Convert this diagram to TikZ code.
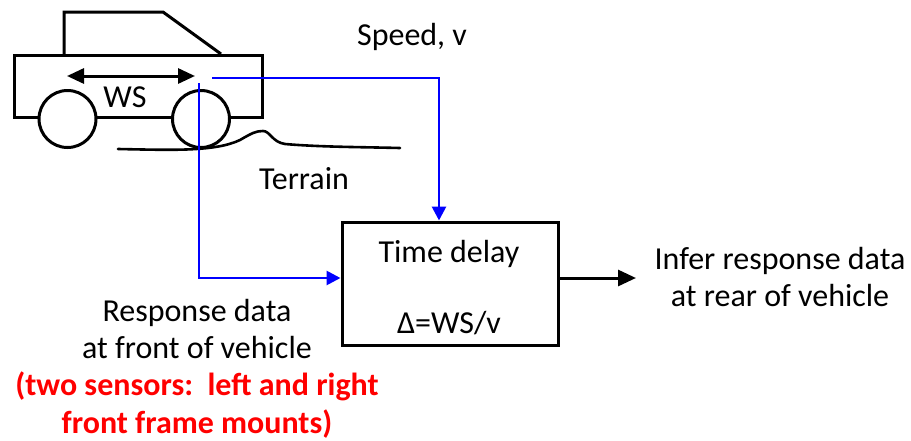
\documentclass[tikz,border=0pt]{standalone}
\usepackage{fontspec}
\setmainfont{Carlito}
\usetikzlibrary{arrows.meta}
\begin{document}
\begin{tikzpicture}[x=1pt,y=-1pt,
  txt/.style={font=\fontsize{32}{37.5}\selectfont, align=center, inner sep=0pt},
  redtxt/.style={txt, font=\fontsize{32}{37.5}\selectfont\bfseries, text=red},
  outline/.style={line width=3pt, line join=miter},
  bluewire/.style={draw=blue, line width=2.8pt, -{Triangle[length=14pt,width=14pt]}},
  blackwire/.style={draw=black, line width=3pt, -{Triangle[length=18pt,width=16pt]}},
  boxstyle/.style={draw, line width=3pt, minimum width=216pt, minimum height=123pt, inner sep=0pt}]
\useasboundingbox (0,0) rectangle (911,440);
% car
\draw[outline] (64,55) -- (64,12) -- (163,12) -- (221,54);
\draw[outline, fill=white] (14,55) rectangle (262,117);
\draw[outline, fill=white] (67.5,119) circle[radius=28.5pt];
\draw[outline, fill=white] (201,119) circle[radius=28.5pt];
\coordinate (wsl) at (67,76);
\coordinate (wsr) at (195,76);
\draw[line width=3pt, {Triangle[length=17pt,width=15pt]}-{Triangle[length=17pt,width=15pt]}] (wsl) -- (wsr);
\node[txt] (ws) at (125,97) {WS};
% terrain
\draw[line width=2.6pt, line cap=round] (118,149) .. controls (170,150) and (215,152) .. (240,140)
  .. controls (252,133) and (256,131) .. (263,131)
  .. controls (270,131) and (272,142) .. (285,144)
  .. controls (320,147) and (360,147) .. (400,148);
\node[txt] (terrain) at (304,179) {Terrain};
% labels
\node[txt] (speed) at (412,37) {Speed, v};
\node[boxstyle] (delay) at (450,283.5) {};
\node[txt] (tdl) at (449,254) {Time delay};
\node[txt] (eq) at (449,323) {Δ=WS/v};
\node[txt] (infer) at (780,277) {Infer response data\\at rear of vehicle};
\node[txt] (resp) at (197,329) {Response data\\at front of vehicle};
\node[redtxt] (sens) at (197,405) {(two sensors:\ \ left and right\\front frame mounts)};
% connectors
\coordinate (fsens) at (199,83);
\coordinate (spd) at (212,78);
\coordinate (out) at (636,278);
\draw[bluewire] (fsens) |- ([yshift=5.5pt]delay.west);
\draw[bluewire] (spd) -| ([xshift=-11pt]delay.north);
\draw[blackwire] ([yshift=5.5pt]delay.east) -- (out);
\end{tikzpicture}
\end{document}
